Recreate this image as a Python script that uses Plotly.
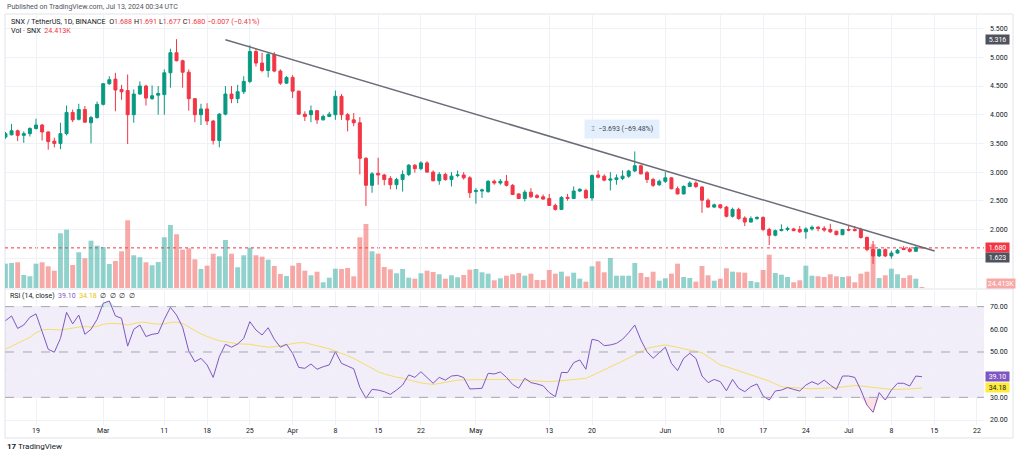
import plotly.graph_objects as go
import pandas as pd

# ---------------- data ----------------
start_date = "2024-02-14"
opens = [
    3.61, 3.65, 3.72, 3.64, 3.67, 3.76, 3.82, 3.70, 3.54, 3.50, 3.67, 4.04, 3.92, 4.09, 3.86, 3.95,
    4.18, 4.54, 4.62, 4.44, 4.42, 4.00, 4.36, 4.50, 4.28, 4.34, 4.35, 4.73, 5.08, 4.94, 4.74, 4.28,
    4.00, 4.10, 3.89, 3.55, 4.01, 4.36, 4.28, 4.40, 4.58, 5.10, 4.90, 4.77, 5.05, 4.76, 4.55,
    4.65, 4.41, 4.01, 4.00, 4.07, 3.91, 3.97, 4.00, 4.32, 4.00, 3.91, 3.86, 3.24, 2.77, 2.98, 2.95,
    2.89, 2.78, 2.87, 2.96, 3.12, 3.06, 3.16, 3.00, 2.85, 2.96, 2.87, 2.94, 2.95, 2.90,
    2.66, 2.67, 2.66, 2.84, 2.81, 2.84, 2.77, 2.62, 2.54, 2.65, 2.59, 2.57, 2.54, 2.42, 2.35, 2.56,
    2.54, 2.67, 2.68, 2.55, 2.95, 2.93, 2.86, 2.87, 2.89, 2.93, 3.02, 3.11, 2.99, 2.87, 2.78,
    2.84, 2.90, 2.71, 2.62, 2.75, 2.81, 2.74, 2.51, 2.39, 2.43, 2.39, 2.23, 2.35, 2.20, 2.13, 2.19,
    2.21, 2.00, 1.90, 1.98, 2.00, 2.01, 2.00, 1.96, 2.01, 2.04, 2.02, 2.00, 1.97, 1.91,
    2.00, 2.00, 2.00, 1.86, 1.65, 1.54, 1.65, 1.54, 1.59, 1.67, 1.66, 1.62, 1.688,
]
highs = [
    3.70, 3.84, 3.74, 3.71, 3.78, 3.93, 3.84, 3.71, 3.60, 3.86, 4.16, 4.09, 4.19, 4.15, 3.98, 4.23,
    4.55, 4.67, 4.73, 4.52, 4.70, 4.44, 4.58, 4.52, 4.51, 4.50, 4.79, 5.15, 5.316, 4.96, 4.79, 4.29,
    4.19, 4.20, 3.91, 4.03, 4.50, 4.50, 4.52, 4.67, 5.21, 5.16, 5.08, 5.09, 5.09, 4.79, 4.67,
    4.69, 4.42, 4.06, 4.16, 4.08, 4.00, 4.05, 4.42, 4.36, 4.03, 4.03, 3.96, 3.26, 3.00, 3.25, 2.97,
    2.93, 2.90, 3.03, 3.14, 3.14, 3.19, 3.19, 3.03, 3.00, 2.99, 3.00, 3.03, 3.00, 2.93,
    2.72, 2.71, 2.86, 2.87, 2.88, 2.95, 2.79, 2.63, 2.69, 2.72, 2.62, 2.61, 2.62, 2.45, 2.58, 2.62,
    2.75, 2.72, 2.71, 2.96, 3.03, 2.96, 3.00, 2.96, 3.03, 3.04, 3.36, 3.13, 3.02, 2.90, 2.87,
    3.00, 2.91, 2.75, 2.77, 2.84, 2.84, 2.75, 2.54, 2.45, 2.44, 2.41, 2.38, 2.38, 2.23, 2.23, 2.23,
    2.23, 2.03, 2.00, 2.09, 2.05, 2.03, 2.06, 2.04, 2.07, 2.06, 2.06, 2.10, 1.98, 2.01,
    2.06, 2.06, 2.03, 1.88, 1.80, 1.67, 1.67, 1.63, 1.66, 1.71, 1.69, 1.71, 1.691,
]
lows = [
    3.58, 3.64, 3.54, 3.51, 3.62, 3.74, 3.55, 3.39, 3.43, 3.40, 3.64, 3.87, 3.90, 3.86, 3.50, 3.93,
    4.16, 4.52, 4.06, 4.26, 3.49, 3.86, 4.35, 4.16, 4.26, 4.00, 4.00, 4.47, 4.93, 4.47, 4.07, 3.87,
    3.82, 3.82, 3.48, 3.43, 3.99, 4.20, 4.20, 4.36, 4.55, 4.84, 4.74, 4.65, 4.74, 4.52, 4.54,
    4.29, 4.00, 3.89, 3.87, 3.84, 3.90, 3.96, 3.91, 3.91, 3.71, 3.80, 2.96, 2.41, 2.64, 2.78, 2.77,
    2.70, 2.70, 2.66, 2.93, 2.99, 3.03, 2.99, 2.84, 2.78, 2.85, 2.75, 2.91, 2.87, 2.55,
    2.45, 2.55, 2.64, 2.78, 2.78, 2.75, 2.60, 2.53, 2.49, 2.55, 2.54, 2.52, 2.41, 2.33, 2.34, 2.50,
    2.54, 2.65, 2.54, 2.50, 2.89, 2.84, 2.68, 2.78, 2.86, 2.90, 3.00, 2.96, 2.81, 2.74, 2.76,
    2.81, 2.70, 2.61, 2.61, 2.74, 2.72, 2.29, 2.38, 2.38, 2.36, 2.21, 2.21, 2.17, 2.06, 2.12, 2.17,
    1.97, 1.73, 1.88, 1.97, 1.97, 1.97, 1.94, 1.84, 1.98, 1.97, 1.96, 1.94, 1.90, 1.90,
    1.97, 1.97, 1.84, 1.62, 1.40, 1.52, 1.52, 1.49, 1.58, 1.65, 1.60, 1.61, 1.677,
]
closes = [
    3.67, 3.72, 3.64, 3.67, 3.76, 3.82, 3.70, 3.53, 3.50, 3.67, 4.04, 3.91, 4.09, 3.87, 3.95, 4.18,
    4.54, 4.61, 4.43, 4.40, 4.00, 4.36, 4.50, 4.29, 4.33, 4.37, 4.73, 5.08, 4.94, 4.74, 4.28, 4.00,
    4.10, 3.89, 3.55, 4.01, 4.36, 4.28, 4.40, 4.58, 5.10, 4.90, 4.77, 5.05, 4.76, 4.55, 4.65,
    4.41, 4.01, 3.97, 4.07, 3.91, 3.97, 4.01, 4.32, 4.00, 3.91, 3.86, 3.24, 2.77, 2.97, 2.95, 2.87,
    2.78, 2.87, 2.96, 3.12, 3.06, 3.16, 3.00, 2.85, 2.96, 2.87, 2.93, 2.95, 2.90, 2.64,
    2.68, 2.69, 2.84, 2.81, 2.84, 2.77, 2.61, 2.54, 2.65, 2.57, 2.56, 2.53, 2.42, 2.35, 2.56, 2.54,
    2.67, 2.70, 2.55, 2.94, 2.91, 2.86, 2.88, 2.90, 2.93, 3.02, 3.11, 2.97, 2.87, 2.77, 2.84,
    2.90, 2.71, 2.62, 2.75, 2.81, 2.75, 2.51, 2.39, 2.43, 2.38, 2.23, 2.35, 2.19, 2.13, 2.19, 2.21,
    2.00, 1.90, 1.98, 2.00, 2.02, 1.98, 1.96, 2.01, 2.04, 2.02, 1.99, 1.96, 1.91, 2.00,
    1.99, 1.98, 1.86, 1.65, 1.54, 1.65, 1.54, 1.59, 1.64, 1.65, 1.62, 1.687, 1.680,
]
volumes_k = [
    608, 625, 643, 325, 293, 608, 643, 543, 433, 1368, 1458, 575, 893, 743, 1183, 1058,
    1025, 600, 675, 918, 1693, 818, 768, 643, 568, 650, 1268, 1575, 1343, 958, 993, 718,
    475, 558, 858, 793, 1200, 858, 518, 818, 1008, 818, 783, 708, 550, 350, 300,
    558, 625, 433, 318, 408, 143, 258, 483, 475, 500, 293, 1268, 1600, 918, 858, 525,
    468, 368, 475, 258, 233, 368, 433, 400, 343, 233, 318, 268, 325, 458,
    475, 393, 358, 193, 243, 308, 343, 375, 308, 358, 200, 200, 450, 358, 408, 293,
    383, 233, 158, 543, 668, 393, 750, 308, 308, 308, 625, 375, 275, 408, 183,
    243, 358, 608, 275, 250, 158, 550, 318, 183, 233, 493, 408, 393, 383, 175, 143,
    450, 833, 375, 333, 275, 143, 193, 558, 308, 293, 275, 343, 293, 275,
    293, 143, 358, 408, 1093, 250, 318, 483, 343, 250, 318, 233, 24.413,
]
rsi = [
    63.8, 65.9, 60.4, 61.9, 65.3, 66.8, 59.0, 51.2, 49.9, 56.0, 67.5, 62.4, 66.3, 57.8, 60.0, 64.4,
    71.5, 72.5, 65.9, 64.9, 52.6, 60.0, 61.9, 56.8, 57.8, 58.2, 64.4, 69.7, 66.3, 60.9, 50.4, 45.7,
    47.2, 44.3, 38.8, 47.9, 53.4, 52.1, 53.5, 56.0, 63.4, 59.7, 57.5, 60.7, 55.6, 52.1, 53.4,
    49.4, 43.2, 42.8, 44.7, 42.4, 43.5, 44.3, 50.1, 45.0, 43.8, 42.6, 34.4, 29.6, 33.5, 33.2, 32.5,
    31.3, 33.2, 35.4, 39.9, 38.8, 41.3, 38.8, 36.2, 38.8, 37.6, 39.4, 39.7, 38.7, 33.7,
    33.8, 34.0, 40.6, 40.3, 41.2, 38.8, 35.7, 34.0, 38.4, 36.5, 35.9, 35.1, 32.1, 30.3, 41.0, 40.9,
    45.3, 46.5, 42.4, 55.6, 55.0, 52.8, 53.1, 53.8, 55.6, 58.5, 61.9, 55.3, 50.1, 47.2, 49.7,
    52.1, 45.0, 41.8, 47.2, 49.4, 47.2, 39.4, 36.5, 37.9, 36.9, 32.9, 37.9, 34.0, 32.5, 34.7, 35.9,
    30.6, 28.8, 32.8, 33.2, 34.3, 33.5, 32.8, 35.4, 36.9, 35.7, 37.6, 35.4, 33.5, 39.4,
    39.4, 38.8, 33.2, 26.6, 23.4, 32.1, 28.8, 33.2, 36.2, 36.2, 35.0, 39.4, 39.10,
]
rsi_ma = [
    51.2, 52.5, 53.8, 55.0, 56.5, 58.5, 59.7, 60.0, 59.8, 59.7, 60.1, 60.6, 61.0, 61.2, 61.0, 61.3,
    62.2, 62.6, 62.6, 62.4, 61.9, 62.5, 63.1, 63.1, 62.5, 62.3, 62.4, 63.0, 63.2, 62.6, 61.2, 59.5,
    58.0, 56.8, 55.8, 55.0, 54.5, 53.8, 53.6, 53.5, 53.4, 52.9, 52.5, 52.1, 52.3, 52.8, 53.3,
    53.8, 54.1, 54.1, 53.5, 52.9, 52.2, 51.4, 50.4, 49.5, 48.4, 47.2, 45.8, 44.3, 42.8, 41.3, 40.3,
    39.5, 38.9, 38.4, 37.7, 37.0, 36.4, 36.0, 35.7, 36.1, 36.6, 37.1, 37.6, 37.7, 37.8,
    37.9, 37.9, 37.9, 37.9, 37.9, 37.9, 37.9, 37.7, 37.5, 37.3, 37.1, 37.0, 36.9, 37.1, 37.4, 37.7,
    37.9, 38.1, 38.4, 39.6, 40.8, 42.1, 43.4, 44.7, 46.0, 47.2, 48.7, 50.2, 51.6, 52.2, 52.7,
    53.1, 52.6, 52.1, 51.6, 51.0, 50.3, 49.7, 48.0, 46.2, 44.3, 43.5, 42.6, 41.8, 40.9, 40.1, 39.2,
    38.4, 37.2, 35.9, 34.7, 34.4, 34.2, 34.0, 33.7, 33.8, 33.9, 34.0, 34.0, 34.3, 34.6,
    35.0, 35.2, 35.0, 34.7, 34.3, 33.9, 33.5, 33.5, 33.5, 33.5, 33.7, 33.9, 34.18,
]
trend_dates = ["2024-03-21", "2024-07-15 02:00"]
trend_prices = [5.307, 1.625]
range_high, range_low = 5.316, 1.623

tick_dates = ["2024-02-19", "2024-03-01", "2024-03-11", "2024-03-18", "2024-03-25", "2024-04-01",
              "2024-04-08", "2024-04-15", "2024-04-22", "2024-05-01", "2024-05-13", "2024-05-20",
              "2024-06-01", "2024-06-10", "2024-06-17", "2024-06-24", "2024-07-01", "2024-07-08",
              "2024-07-15", "2024-07-22"]
tick_text = ["19", "Mar", "11", "18", "25", "Apr", "8", "15", "22", "May", "13", "20",
             "Jun", "10", "17", "24", "Jul", "8", "15", "22"]
price_ticks = [1.5, 2.0, 2.5, 3.0, 3.5, 4.0, 4.5, 5.0, 5.5]
rsi_ticks = [20, 30, 40, 50, 60, 70]

# ---------------- figure ----------------
W, H = 1024, 457
def PX(x): return x / W
def PY(y): return 1 - y / H

dates = pd.date_range(start_date, periods=len(closes), freq="D")
UP, DN = "#089981", "#f23645"
FONT = "Roboto"
TXT = "#131722"

vol_colors = ["rgba(38,166,154,0.5)" if c >= o else "rgba(239,83,80,0.5)" for o, c in zip(opens, closes)]

fig = go.Figure()
fig.add_trace(go.Bar(x=dates, y=volumes_k, marker=dict(color=vol_colors, line=dict(width=0)),
                     width=0.8 * 86400000, xaxis="x", yaxis="y", hoverinfo="skip"))
fig.add_trace(go.Candlestick(x=dates, open=opens, high=highs, low=lows, close=closes,
                             increasing=dict(line=dict(color=UP, width=1), fillcolor=UP),
                             decreasing=dict(line=dict(color=DN, width=1), fillcolor=DN),
                             whiskerwidth=0, xaxis="x", yaxis="y2", hoverinfo="skip"))
fig.add_trace(go.Scatter(x=trend_dates, y=trend_prices, mode="lines",
                         line=dict(color="#6a6d78", width=1.5), xaxis="x", yaxis="y2", hoverinfo="skip"))

# RSI pane: overbought / oversold fills
fig.add_trace(go.Scatter(x=dates, y=[30] * len(rsi), mode="lines", line=dict(width=0),
                         xaxis="x2", yaxis="y3", hoverinfo="skip"))
fig.add_trace(go.Scatter(x=dates, y=[min(v, 30) for v in rsi], mode="lines", line=dict(width=0),
                         fill="tonexty", fillcolor="rgba(242,54,69,0.15)", xaxis="x2", yaxis="y3",
                         hoverinfo="skip"))
fig.add_trace(go.Scatter(x=dates, y=[70] * len(rsi), mode="lines", line=dict(width=0),
                         xaxis="x2", yaxis="y3", hoverinfo="skip"))
fig.add_trace(go.Scatter(x=dates, y=[max(v, 70) for v in rsi], mode="lines", line=dict(width=0),
                         fill="tonexty", fillcolor="rgba(8,153,129,0.15)", xaxis="x2", yaxis="y3",
                         hoverinfo="skip"))
fig.add_trace(go.Scatter(x=dates, y=rsi_ma, mode="lines", line=dict(color="#f5dd6a", width=1),
                         xaxis="x2", yaxis="y3", hoverinfo="skip"))
fig.add_trace(go.Scatter(x=dates, y=rsi, mode="lines", line=dict(color="#7e57c2", width=1),
                         xaxis="x2", yaxis="y3", hoverinfo="skip"))

xdom = [PX(5), PX(984)]
xrange = ["2024-02-13 22:13", "2024-07-23 03:43"]
grid = "#eff1f6"
common_x = dict(type="date", range=xrange, tickvals=tick_dates, showgrid=True, gridcolor=grid,
                gridwidth=1, zeroline=False, showline=False, fixedrange=True)

fig.update_layout(
    width=W, height=H, margin=dict(l=0, r=0, t=0, b=0),
    paper_bgcolor="white", plot_bgcolor="white", showlegend=False,
    font=dict(family=FONT, size=7, color=TXT),
    xaxis=dict(domain=xdom, anchor="y", showticklabels=False, rangeslider=dict(visible=False),
               **common_x),
    yaxis=dict(domain=[PY(288), PY(15)], range=[0, 273 * 25], visible=False, fixedrange=True),
    yaxis2=dict(domain=[PY(288), PY(15)], overlaying="y", anchor="x", side="right",
                range=[0.981, 5.737], tickvals=price_ticks,
                ticktext=["" if v < 2 else f"{v:.3f}" for v in price_ticks],
                showgrid=True, gridcolor=grid, zeroline=False, ticks="", ticklabelstandoff=5,
                tickfont=dict(size=7, color=TXT), fixedrange=True),
    xaxis2=dict(domain=xdom, anchor="y3", matches="x", ticktext=tick_text, ticks="",
                tickfont=dict(size=7, color=TXT), ticklabelstandoff=0,
                rangeslider=dict(visible=False), **common_x),
    yaxis3=dict(domain=[PY(425), PY(291)], anchor="x2", side="right", range=[17.8, 76.9],
                tickvals=rsi_ticks, ticktext=["" if v == 40 else f"{v:.2f}" for v in rsi_ticks],
                showgrid=True, gridcolor=grid, zeroline=False, ticks="", ticklabelstandoff=5,
                tickfont=dict(size=7, color=TXT), fixedrange=True),
)

shapes = [
    # chart frame + pane separator
    dict(type="rect", xref="paper", yref="paper", x0=PX(5), x1=PX(1013), y0=PY(438), y1=PY(14),
         line=dict(color="#e0e3eb", width=1), layer="below"),
    dict(type="line", xref="paper", yref="paper", x0=PX(5), x1=PX(1013), y0=PY(289), y1=PY(289),
         line=dict(color="#e0e3eb", width=1), layer="below"),
    # RSI band and levels
    dict(type="rect", xref="paper", yref="y3", x0=xdom[0], x1=xdom[1], y0=30, y1=70,
         fillcolor="rgba(126,87,194,0.1)", line=dict(width=0), layer="below"),
]
for lvl in (70, 50, 30):
    shapes.append(dict(type="line", xref="paper", yref="y3", x0=xdom[0], x1=xdom[1], y0=lvl, y1=lvl,
                       line=dict(color="#a7a3b5", width=1, dash="dash"), layer="above"))
# last price dotted line
shapes.append(dict(type="line", xref="paper", yref="y2", x0=xdom[0], x1=xdom[1],
                   y0=closes[-1], y1=closes[-1], line=dict(color=DN, width=1, dash="dot"), layer="below"))
fig.update_layout(shapes=shapes)

red = lambda s: f"<span style='color:{DN}'>{s}</span>"
chg = closes[-1] - closes[-2]
line1 = (f"SNX / TetherUS, 1D, BINANCE  O{red(f'{opens[-1]:.3f}')} H{red(f'{highs[-1]:.3f}')} "
         f"L{red(f'{lows[-1]:.3f}')} C{red(f'{closes[-1]:.3f}')} "
         f"{red(f'−{abs(chg):.3f} (−{abs(chg) / closes[-2] * 100:.2f}%)')}")
line2 = f"Vol · SNX  {red(f'{volumes_k[-1]:.3f}K')}"
rsi_leg = (f"RSI (14, close)  <span style='color:#7e57c2'>{rsi[-1]:.2f}</span>  "
           f"<span style='color:#e8c400'>{rsi_ma[-1]:.2f}</span>  ∅  ∅  ∅  ∅")

ann = [
    dict(x=PX(5), y=PY(7), text="Published on TradingView.com, Jul 13, 2024 00:34 UTC",
         font=dict(size=7, color="#50535e")),
    dict(x=PX(9), y=PY(21.5), text=line1, font=dict(size=7.2, color=TXT)),
    dict(x=PX(9), y=PY(30.5), text=line2, font=dict(size=7.2, color=TXT)),
    dict(x=PX(8), y=PY(296), text=rsi_leg, font=dict(size=7, color=TXT)),
    dict(x=PX(5), y=PY(446), text="<b>17</b> TradingView", font=dict(size=8, color=TXT)),
]
for a in ann:
    a.update(xref="paper", yref="paper", xanchor="left", yanchor="middle", showarrow=False)

def box(x, y, yref, text, bg, fg="white", w=22):
    return dict(x=x, y=y, xref="paper", yref=yref, text=text, showarrow=False, xanchor="center",
                yanchor="middle", bgcolor=bg, font=dict(size=7, color=fg), width=w, height=8,
                borderpad=0.5)

ann += [
    box(PX(997.5), range_high, "y2", f"{range_high:.3f}", "#50535e"),
    box(PX(997.5), closes[-1], "y2", f"{closes[-1]:.3f}", DN),
    box(PX(997.5), PY(257.3), "paper", f"{range_low:.3f}", "#50535e"),
    box(PX(1000.5), PY(283), "paper", f"{volumes_k[-1]:.3f}K", "#f7a9a7", w=27),
    box(PX(997.5), rsi[-1], "y3", f"{rsi[-1]:.2f}", "#7e57c2"),
    box(PX(997.5), rsi_ma[-1], "y3", f"{rsi_ma[-1]:.2f}", "#ffeb3b", fg=TXT),
    dict(x=PX(622), y=PY(129.5), xref="paper", yref="paper", showarrow=False,
         text=f"⌶  −{range_high - range_low:.3f} (−69.48%)", bgcolor="#e3effd",
         font=dict(size=7, color="#434651"), width=72, height=16, xanchor="center", yanchor="middle"),
]
fig.update_layout(annotations=ann)

fig.write_html("out.html", config={"displayModeBar": False, "staticPlot": True},
               post_script="document.body.style.margin='0';document.body.style.overflow='hidden';")
